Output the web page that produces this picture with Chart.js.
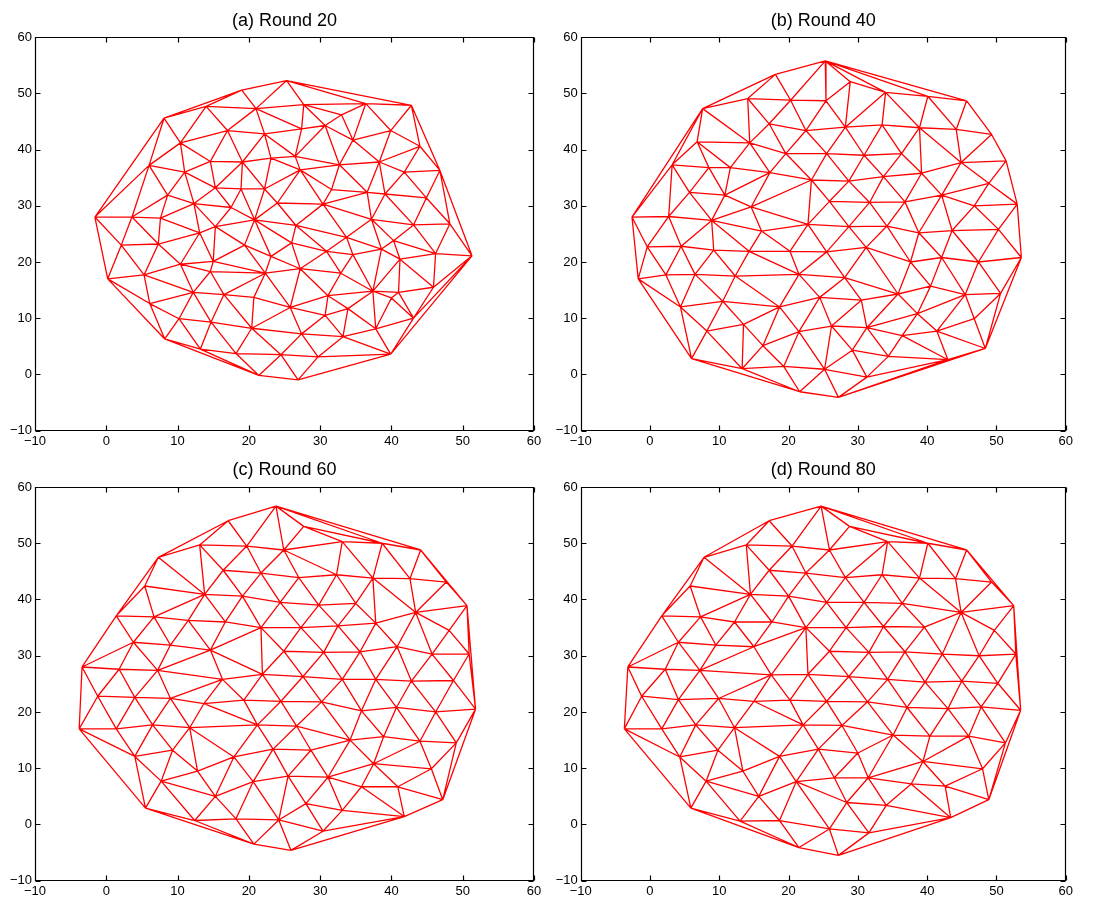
<!DOCTYPE html>
<html>
<head>
<meta charset="utf-8">
<script src="https://cdn.jsdelivr.net/npm/chart.js@4.4.1/dist/chart.umd.min.js"></script>
<style>
html,body{margin:0;padding:0;background:#fff;}
#wrap{position:relative;width:1097px;height:905px;overflow:hidden;background:#fff;}
.p{position:absolute;}
canvas{display:block;}
</style>
</head>
<body>
<div id="wrap">
  <div class="p" style="left:0;top:0;"><canvas id="ca" width="548" height="452"></canvas></div>
  <div class="p" style="left:548px;top:0;"><canvas id="cb" width="549" height="452"></canvas></div>
  <div class="p" style="left:0;top:452px;"><canvas id="cc" width="548" height="453"></canvas></div>
  <div class="p" style="left:548px;top:452px;"><canvas id="cd" width="549" height="453"></canvas></div>
</div>
<script>
// ---------------- data ----------------
const titles = ['(a) Round 20', '(b) Round 40', '(c) Round 60', '(d) Round 80'];
const tickValues = [-10, 0, 10, 20, 30, 40, 50, 60];

// node positions of the mesh after 20 rounds
const round20X = [25.3,19.0,14.0,21.0,8.1,17.0,22.2,10.4,6.0,14.6,19.1,23.1,11.0,15.3,18.9,22.2,8.6,12.3,17.5,24.0,-1.6,3.6,7.6,20.8,15.3,13.1,2.1,7.3,19.4,23.1,15.0,10.4,0.2,5.3,14.6,22.3,12.2,16.5,20.7,6.1,10.2,14.7,20.4,8.2,13.2,18.2,24.5,21.4,27.7,36.4,42.8,33.0,30.7,27.4,34.6,39.9,44.0,26.5,32.7,38.3,27.2,41.8,46.8,31.6,36.6,39.1,44.9,30.4,37.2,43.1,48.2,26.6,33.7,40.3,26.0,51.3,30.9,34.6,38.6,46.2,41.2,27.2,32.9,45.9,37.4,41.0,31.1,40.0,25.8,33.9,30.7,43.1,37.8,27.4,33.2,39.9,29.7,26.9];
const round20Y = [52.3,50.6,47.7,47.3,45.6,43.4,42.8,41.2,37.2,37.9,37.8,38.5,36.0,33.2,33.0,33.0,31.9,30.4,29.7,30.5,28.0,28.0,27.8,27.5,26.3,25.2,23.0,23.2,23.0,21.0,20.1,19.6,17.0,17.7,18.3,18.0,14.6,14.2,13.7,12.6,9.9,9.3,8.2,6.3,4.5,3.7,3.5,-0.2,48.0,48.2,47.9,46.2,44.3,43.7,41.7,43.4,40.6,38.8,37.3,37.8,36.4,36.0,36.3,32.9,32.4,32.1,31.4,30.3,27.6,26.6,26.8,26.5,24.4,23.8,23.4,21.1,21.9,21.3,22.3,21.5,20.5,18.8,18.0,15.5,14.8,14.6,14.0,13.6,11.9,11.7,10.5,10.0,8.1,7.2,6.7,3.6,3.1,-1.0];

// node positions after 40 rounds
const round40X = [25.3,18.1,14.1,20.3,7.6,25.4,17.2,22.5,6.8,14.4,19.6,3.2,8.5,11.6,17.3,23.3,5.7,10.8,14.6,-2.6,2.7,8.9,22.8,16.1,-0.4,4.5,9.2,14.3,20.2,-1.7,2.3,6.5,12.3,21.5,4.4,10.5,18.7,24.5,8.2,13.5,21.5,16.3,6.0,13.3,19.3,25.2,21.6,28.9,34.0,40.1,45.7,28.2,33.5,38.9,44.2,49.3,25.5,30.9,36.3,44.9,51.4,28.7,33.7,39.2,48.9,25.9,31.7,36.8,42.1,46.8,53.0,28.7,34.2,38.8,43.6,50.3,25.5,31.2,37.6,42.1,47.4,53.6,28.1,40.5,35.8,45.5,50.6,30.5,38.6,46.8,26.2,31.3,36.4,41.4,48.4,29.2,34.4,43.0,31.3,27.2];
const round40Y = [55.8,53.4,49.1,48.8,47.3,48.7,44.6,43.4,41.4,41.2,39.3,37.3,36.8,36.8,35.9,34.6,32.4,31.9,29.8,28.0,28.1,27.4,26.7,25.5,22.7,22.8,22.1,21.9,21.9,17.0,17.7,17.8,17.5,17.8,12.0,13.0,12.0,13.7,7.7,8.9,7.6,5.1,2.8,1.0,1.4,0.9,-3.1,52.1,50.2,49.5,48.7,44.0,44.4,43.9,43.6,42.7,39.3,39.0,39.3,37.7,38.0,34.4,35.2,35.8,34.0,30.8,30.6,30.7,31.9,30.0,30.3,26.3,26.4,25.2,25.6,25.8,21.8,22.6,20.0,20.8,20.0,20.8,17.2,15.7,14.3,14.2,14.4,13.2,10.8,9.9,8.6,8.3,6.9,7.7,4.6,4.3,3.2,2.6,-0.5,-4.1];

// node positions after 60 rounds
const round60X = [23.8,17.1,13.1,19.7,7.3,16.4,21.7,5.4,13.8,19.1,24.4,1.4,6.7,11.5,16.7,21.7,3.8,9.0,14.6,-3.4,1.8,7.2,16.3,21.9,-1.2,4.0,9.0,13.7,19.3,-3.8,1.4,6.5,11.7,21.2,4.0,9.3,17.9,23.4,12.8,7.7,20.6,15.3,5.5,12.4,18.2,24.2,20.7,27.7,33.1,38.7,44.1,24.9,27.0,32.3,37.4,42.6,47.7,29.8,35.0,43.4,50.6,27.3,32.5,37.8,48.1,24.9,30.5,35.6,40.8,45.7,50.9,27.6,33.1,37.8,42.8,48.7,24.5,30.2,35.8,40.7,46.2,51.8,26.7,34.2,38.9,44.0,49.1,28.7,37.5,45.6,25.5,31.1,35.8,40.9,47.2,28.0,33.1,41.8,30.4,25.9];
const round60Y = [56.6,54.0,49.7,49.5,47.5,45.2,44.7,42.4,40.9,40.6,39.5,37.1,36.9,36.3,36.0,35.0,32.4,31.9,31.0,28.0,27.6,27.4,25.8,26.7,22.8,22.6,22.4,21.5,22.1,17.0,17.0,17.7,17.2,17.7,12.1,13.2,12.0,13.4,9.5,7.7,7.6,5.0,2.9,0.7,1.0,0.8,-3.5,53.0,50.3,50.0,48.8,48.8,43.9,44.4,43.8,43.7,43.1,39.0,39.3,37.7,38.9,35.0,35.3,35.8,34.5,30.8,30.6,30.7,31.6,30.3,30.3,26.3,25.8,25.8,25.5,25.6,21.9,21.8,20.2,20.8,20.0,20.5,17.5,15.0,15.6,14.8,14.5,13.2,10.8,9.9,8.6,8.4,6.7,6.7,4.4,3.7,2.5,1.4,-1.2,-4.6];

// node positions after 80 rounds
const round80X = [24.7,17.2,13.9,20.5,7.8,17.2,22.5,5.8,14.5,20.0,1.7,7.3,12.2,17.6,22.5,4.1,9.5,15.0,-3.2,2.2,7.2,17.5,22.8,-1.2,4.1,9.9,15.0,20.2,-3.7,1.7,6.6,12.2,22.1,4.3,9.8,18.7,24.3,13.4,8.1,21.1,15.7,5.9,13.0,18.7,21.5,28.8,34.3,40.1,45.7,25.9,28.2,33.5,38.9,44.1,49.3,25.5,30.9,36.4,44.9,52.5,28.3,33.7,39.6,49.7,25.9,31.6,36.8,42.2,47.5,52.8,28.7,34.3,39.7,45.0,50.2,25.5,31.4,37.1,43.0,47.8,53.5,27.7,35.1,40.4,46.0,51.3,30.0,39.4,48.0,26.6,31.5,37.7,42.6,48.9,28.4,34.1,43.4,25.9,31.6,27.2];
const round80Y = [56.6,54.0,49.7,49.5,47.5,45.2,44.7,42.4,40.9,40.6,37.1,36.9,36.0,36.0,35.0,32.4,31.9,31.6,28.0,27.6,27.4,26.6,26.7,22.8,22.2,22.4,21.9,22.1,17.0,17.0,17.7,17.2,17.7,12.0,13.2,12.1,13.4,9.5,7.7,7.6,5.0,2.9,0.6,0.7,-4.1,53.0,50.3,50.0,48.8,48.8,43.9,44.4,43.8,43.7,43.1,39.5,39.5,39.3,37.7,38.9,35.0,35.2,35.1,34.5,30.8,30.6,30.7,30.3,30.0,30.3,26.3,25.8,25.3,25.5,25.1,21.9,21.8,20.8,20.6,20.9,20.3,17.6,15.9,15.7,15.7,14.5,12.7,11.2,9.9,8.3,8.3,7.2,6.8,4.4,3.9,3.4,1.2,-0.8,-1.5,-5.5];

// ---------------- layout (positions only) ----------------
const FONT = "'Liberation Sans', Arial, Helvetica, sans-serif";
const panelLayout = [
  {id: 'ca', yAxisW: 35,   padR: 14,   titleTop: 10.2, titleBot: 5.5, xAxisH: 21.5},
  {id: 'cb', yAxisW: 32.7, padR: 31.3, titleTop: 10.2, titleBot: 5.5, xAxisH: 21.5},
  {id: 'cc', yAxisW: 35,   padR: 14,   titleTop: 7.7,  titleBot: 5.7, xAxisH: 24.3},
  {id: 'cd', yAxisW: 32.7, padR: 31.3, titleTop: 7.7,  titleBot: 5.7, xAxisH: 24.3}
];
const series = [[round20X, round20Y], [round40X, round40Y], [round60X, round60Y], [round80X, round80Y]];

// ---------------- Delaunay triangulation (Bowyer-Watson) ----------------
function delaunayEdges(xs, ys) {
  const n = xs.length;
  const P = xs.map((x, i) => ({x: x, y: ys[i]}));
  let minX = Infinity, minY = Infinity, maxX = -Infinity, maxY = -Infinity;
  P.forEach(p => { minX = Math.min(minX, p.x); maxX = Math.max(maxX, p.x); minY = Math.min(minY, p.y); maxY = Math.max(maxY, p.y); });
  const dm = Math.max(maxX - minX, maxY - minY), mx = (minX + maxX) / 2, my = (minY + maxY) / 2;
  const S = 500;
  P.push({x: mx - S * dm, y: my - S * dm}, {x: mx, y: my + S * dm}, {x: mx + S * dm, y: my - S * dm});
  function circ(a, b, c) {
    const A = P[a], B = P[b], C = P[c];
    const d = 2 * (A.x * (B.y - C.y) + B.x * (C.y - A.y) + C.x * (A.y - B.y));
    const a2 = A.x * A.x + A.y * A.y, b2 = B.x * B.x + B.y * B.y, c2 = C.x * C.x + C.y * C.y;
    const ux = (a2 * (B.y - C.y) + b2 * (C.y - A.y) + c2 * (A.y - B.y)) / d;
    const uy = (a2 * (C.x - B.x) + b2 * (A.x - C.x) + c2 * (B.x - A.x)) / d;
    return {a: a, b: b, c: c, cx: ux, cy: uy, r2: (A.x - ux) * (A.x - ux) + (A.y - uy) * (A.y - uy)};
  }
  let tris = [circ(n, n + 1, n + 2)];
  for (let i = 0; i < n; i++) {
    const p = P[i];
    const bad = [], keep = [];
    for (const t of tris) {
      const d2 = (p.x - t.cx) * (p.x - t.cx) + (p.y - t.cy) * (p.y - t.cy);
      if (d2 < t.r2) bad.push(t); else keep.push(t);
    }
    const poly = new Map();
    for (const t of bad) {
      for (const [u, v] of [[t.a, t.b], [t.b, t.c], [t.c, t.a]]) {
        const k = u < v ? u + ',' + v : v + ',' + u;
        if (poly.has(k)) poly.set(k, null); else poly.set(k, [u, v]);
      }
    }
    tris = keep;
    for (const e of poly.values()) if (e) tris.push(circ(e[0], e[1], i));
  }
  const out = new Map();
  for (const t of tris) {
    if (t.a >= n || t.b >= n || t.c >= n) continue;
    for (const [u, v] of [[t.a, t.b], [t.b, t.c], [t.c, t.a]]) {
      const k = u < v ? u + ',' + v : v + ',' + u;
      if (!out.has(k)) out.set(k, [u, v]);
    }
  }
  return Array.from(out.values());
}

// ---------------- frame + inward ticks ----------------
const framePlugin = {
  id: 'frame',
  afterDraw(chart) {
    const ctx = chart.ctx, a = chart.chartArea, xs = chart.scales.x, ys = chart.scales.y;
    const L = Math.round(a.left) + 0.5, R = Math.round(a.right) - 0.5, T = Math.round(a.top) + 0.5, B = Math.round(a.bottom) - 0.5;
    ctx.save();
    ctx.strokeStyle = '#000';
    ctx.lineWidth = 1.2;
    ctx.beginPath();
    ctx.rect(L, T, R - L, B - T);
    const tl = 5;
    tickValues.forEach(v => {
      const px = Math.round(xs.getPixelForValue(v)) + 0.5;
      ctx.moveTo(px, B); ctx.lineTo(px, B - tl);
      ctx.moveTo(px, T); ctx.lineTo(px, T + tl);
      const py = Math.round(ys.getPixelForValue(v)) + 0.5;
      ctx.moveTo(L, py); ctx.lineTo(L + tl, py);
      ctx.moveTo(R, py); ctx.lineTo(R - tl, py);
    });
    ctx.stroke();
    ctx.restore();
  }
};

function fmt(v) { return v < 0 ? '\u2212' + Math.abs(v) : String(v); }

function axisOpts(isX, lay) {
  return {
    type: 'linear',
    min: tickValues[0],
    max: tickValues[tickValues.length - 1],
    afterBuildTicks: s => { s.ticks = tickValues.map(v => ({value: v})); },
    afterFit: s => { if (isX) s.height = lay.xAxisH; else s.width = lay.yAxisW; },
    grid: {display: false, drawTicks: false},
    border: {display: false},
    ticks: {
      color: '#000',
      font: {family: FONT, size: 13},
      padding: 3,
      autoSkip: false,
      maxRotation: 0,
      minRotation: 0,
      callback: v => fmt(v)
    }
  };
}

panelLayout.forEach((lay, k) => {
  const xs = series[k][0], ys = series[k][1];
  const edges = delaunayEdges(xs, ys);
  const pts = [];
  edges.forEach(([i, j]) => {
    pts.push({x: xs[i], y: ys[i]}, {x: xs[j], y: ys[j]}, {x: xs[j], y: null});
  });
  new Chart(document.getElementById(lay.id), {
    type: 'scatter',
    data: {
      datasets: [{
        data: pts,
        showLine: true,
        spanGaps: false,
        borderColor: '#ff0000',
        borderWidth: 1.3,
        pointRadius: 0,
        pointHoverRadius: 0,
        fill: false,
        tension: 0
      }]
    },
    options: {
      responsive: false,
      animation: false,
      events: [],
      layout: {padding: {left: 0, right: lay.padR, top: 0, bottom: 0}},
      plugins: {
        legend: {display: false},
        tooltip: {enabled: false},
        title: {
          display: true,
          text: titles[k],
          fullSize: false,
          color: '#000',
          font: {family: FONT, size: 18, weight: 'normal', lineHeight: 1.2},
          padding: {top: lay.titleTop, bottom: lay.titleBot}
        }
      },
      scales: {x: axisOpts(true, lay), y: axisOpts(false, lay)}
    },
    plugins: [framePlugin]
  });
});
</script>
</body>
</html>
